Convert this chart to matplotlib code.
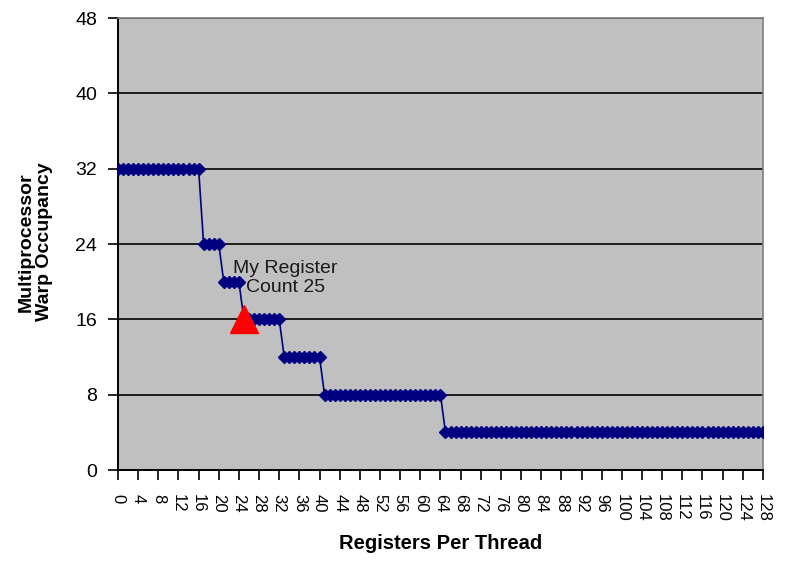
import numpy as np
import matplotlib
matplotlib.use("Agg")
from matplotlib import pyplot as plt

plt.rcParams['font.family'] = ['Liberation Sans', 'DejaVu Sans']

# registers per thread 0..128 and warp occupancy
registers = list(range(0, 129))
occupancy = ([32] * 17 + [24] * 4 + [20] * 4 + [16] * 8 + [12] * 8
             + [8] * 24 + [4] * 64)

my_regs = 25
my_occ = 16

x_ticks = list(range(0, 129, 4))
y_ticks = [0, 8, 16, 24, 32, 40, 48]

fig = plt.figure(figsize=(7.88, 5.63), dpi=100)
ax = fig.add_axes([0.1497, 0.165, 0.8185, 0.803])
ax.set_facecolor('#c0c0c0')

ax.plot(registers, occupancy, color='#000080', lw=1.2, marker='D',
        markersize=6.5, zorder=3)
ax.plot([my_regs], [my_occ], marker='^', color='red', markersize=20,
        linestyle='none', zorder=4)
ax.text(33.2, 20.4, "My Register\nCount 25", ha='center', va='center',
        fontsize=14, color='#1a1a1a', linespacing=1.2, zorder=5)

ax.set_xlim(0, 128)
ax.set_ylim(0, 48)
ax.set_xticks(x_ticks)
ax.set_xticklabels([str(t) for t in x_ticks], rotation=-90, fontsize=12)
ax.set_yticks(y_ticks)
ax.set_yticklabels([str(t) for t in y_ticks], fontsize=14)
ax.yaxis.grid(True, color='black', lw=1.2)
ax.set_axisbelow(True)
ax.tick_params(axis='both', direction='out', color='black', length=7, width=1.2)
ax.tick_params(axis='y', pad=8)
ax.tick_params(axis='x', pad=10)

for s in ['left', 'bottom']:
    ax.spines[s].set_color('black')
    ax.spines[s].set_linewidth(1.4)
for s in ['top', 'right']:
    ax.spines[s].set_color('#808080')
    ax.spines[s].set_linewidth(1.2)

ax.set_xlabel("Registers Per Thread", fontsize=14.5, fontweight='bold', labelpad=9)
ax.set_ylabel("Multiprocessor\nWarp Occupancy", fontsize=14, fontweight='bold',
              linespacing=1.15)
ax.yaxis.set_label_coords(-0.1, 0.505)

fig.savefig("out.png", dpi=100)
